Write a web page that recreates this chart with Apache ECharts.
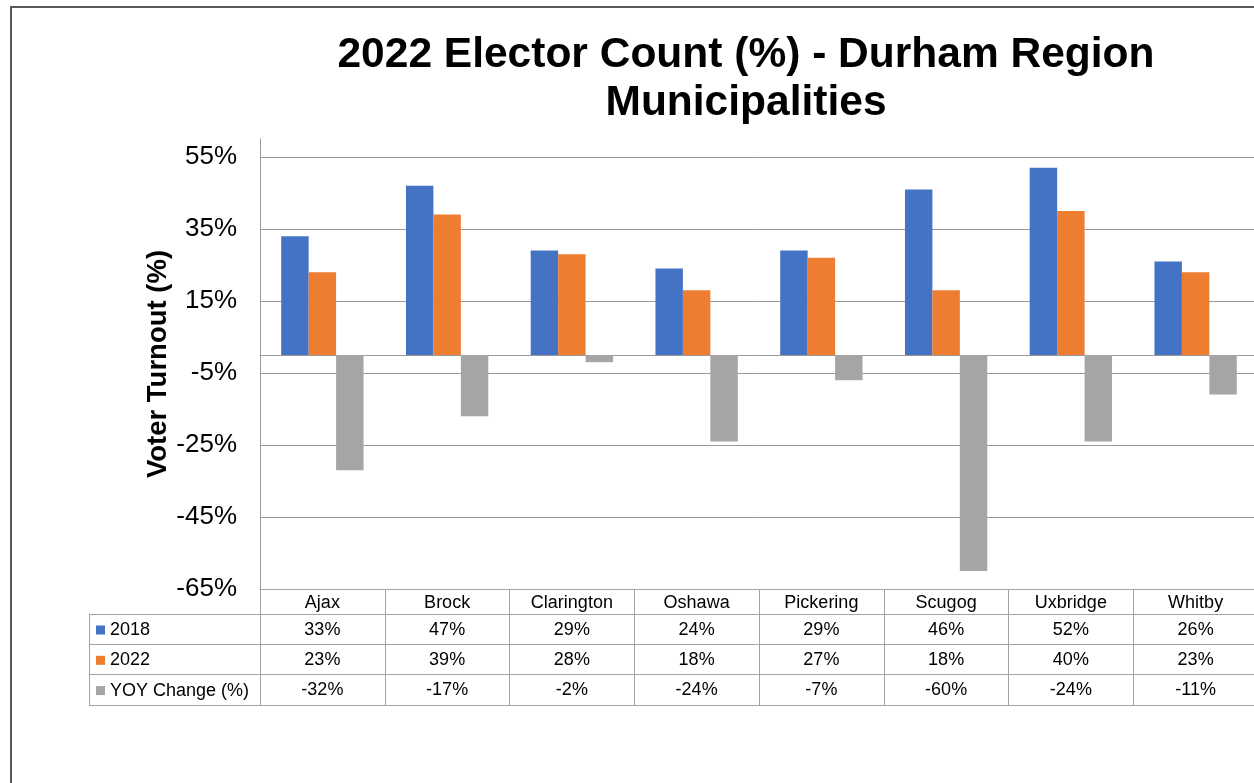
<!DOCTYPE html>
<html>
<head>
<meta charset="utf-8">
<script src="https://cdn.jsdelivr.net/npm/echarts@6/dist/echarts.min.js"></script>
<style>
html,body{margin:0;padding:0;background:#fff;}
#chart{width:1254px;height:783px;}
</style>
</head>
<body>
<div id="chart"></div>
<script>
const categories = ['Ajax', 'Brock', 'Clarington', 'Oshawa', 'Pickering', 'Scugog', 'Uxbridge', 'Whitby'];
const seriesNames = ['2018', '2022', 'YOY Change (%)'];
const values2018 = [33, 47, 29, 24, 29, 46, 52, 26];
const values2022 = [23, 39, 28, 18, 27, 18, 40, 23];
const valuesYOY = [-32, -17, -2, -24, -7, -60, -24, -11];
const colors = ['#4472C4', '#ED7D31', '#A5A5A5'];

const FONT = "'Liberation Sans', Arial, sans-serif";
const GRID_COLOR = '#9a9a9a';
const TABLE_COLOR = '#a3a3a3';

function rowAxis(offset, arr, showLabel) {
  return {
    type: 'category',
    gridIndex: 0,
    data: categories,
    position: 'bottom',
    offset: offset,
    axisLine: { show: true, onZero: false, lineStyle: { color: TABLE_COLOR, width: 1 } },
    axisTick: { show: false },
    axisLabel: {
      show: showLabel,
      interval: 0,
      margin: 7,
      fontFamily: FONT,
      fontSize: 18,
      color: '#000',
      formatter: function (v, i) { return arr ? arr[i] + '%' : v; }
    },
    splitLine: { show: false }
  };
}

const chart = echarts.init(document.getElementById('chart'), null, { renderer: 'canvas' });
chart.setOption({
  animation: false,
  backgroundColor: '#fff',
  color: colors,
  textStyle: { fontFamily: FONT },
  title: {
    text: '2022 Elector Count (%) - Durham Region\nMunicipalities',
    left: 741,
    top: 26,
    textAlign: 'center',
    textStyle: { fontFamily: FONT, fontSize: 42.5, fontWeight: 'bold', color: '#000', lineHeight: 48 }
  },
  graphic: [{
    type: 'rect',
    shape: { x: 11, y: 7, width: 1400, height: 900 },
    style: { fill: 'none', stroke: '#595959', lineWidth: 2 },
    silent: true,
    z: 100
  }],
  legend: {
    data: seriesNames,
    orient: 'vertical',
    left: 91,
    top: 616,
    icon: 'rect',
    itemWidth: 9,
    itemHeight: 9,
    itemGap: 12.3,
    selectedMode: false,
    textStyle: { fontFamily: FONT, fontSize: 18, color: '#000', lineHeight: 18 }
  },
  grid: [
    { left: 260, top: 139, width: 998, height: 450, outerBoundsMode: 'none', containLabel: false },
    { left: 89, top: 614, width: 171, height: 91, outerBoundsMode: 'none', containLabel: false }
  ],
  xAxis: [
    {
      type: 'category',
      gridIndex: 0,
      data: categories,
      axisLine: { show: true, onZero: true, lineStyle: { color: GRID_COLOR, width: 1 } },
      axisTick: { show: false },
      axisLabel: { show: false },
      splitLine: { show: false }
    },
    Object.assign(rowAxis(0, null, true), {
      axisTick: { show: true, length: 116, interval: 0, alignWithLabel: false, lineStyle: { color: TABLE_COLOR, width: 1 } },
      axisLabel: { show: true, interval: 0, margin: 5, fontFamily: FONT, fontSize: 18, color: '#000' }
    }),
    rowAxis(25, values2018, true),
    rowAxis(55, values2022, true),
    rowAxis(85, valuesYOY, true),
    rowAxis(116, null, false),
    { type: 'value', gridIndex: 1, show: false }
  ],
  yAxis: [
    {
      type: 'value',
      gridIndex: 0,
      min: -65,
      max: 60,
      interval: 20,
      name: 'Voter Turnout (%)',
      nameLocation: 'middle',
      nameRotate: 90,
      nameGap: 88,
      nameMoveOverlap: false,
      nameTextStyle: { fontFamily: FONT, fontSize: 27.5, fontWeight: 'bold', color: '#000' },
      axisLine: { show: true, lineStyle: { color: GRID_COLOR, width: 1 } },
      axisTick: { show: false },
      axisLabel: {
        margin: 23,
        fontFamily: FONT,
        fontSize: 26,
        color: '#000',
        padding: [5, 0, 0, 0],
        showMaxLabel: false,
        formatter: '{value}%'
      },
      splitLine: { show: true, showMaxLine: false, lineStyle: { color: GRID_COLOR, width: 1 } }
    },
    {
      type: 'category',
      gridIndex: 1,
      data: seriesNames,
      inverse: true,
      axisLine: { show: true, lineStyle: { color: TABLE_COLOR, width: 1 } },
      axisTick: { show: false },
      axisLabel: { show: false },
      splitLine: { show: true, interval: 0, lineStyle: { color: TABLE_COLOR, width: 1 } }
    }
  ],
  series: [
    { name: seriesNames[0], type: 'bar', xAxisIndex: 0, yAxisIndex: 0, data: values2018, barGap: '0%', barCategoryGap: '34%' },
    { name: seriesNames[1], type: 'bar', xAxisIndex: 0, yAxisIndex: 0, data: values2022, barGap: '0%', barCategoryGap: '34%' },
    { name: seriesNames[2], type: 'bar', xAxisIndex: 0, yAxisIndex: 0, data: valuesYOY, barGap: '0%', barCategoryGap: '34%' }
  ]
});
</script>
</body>
</html>
